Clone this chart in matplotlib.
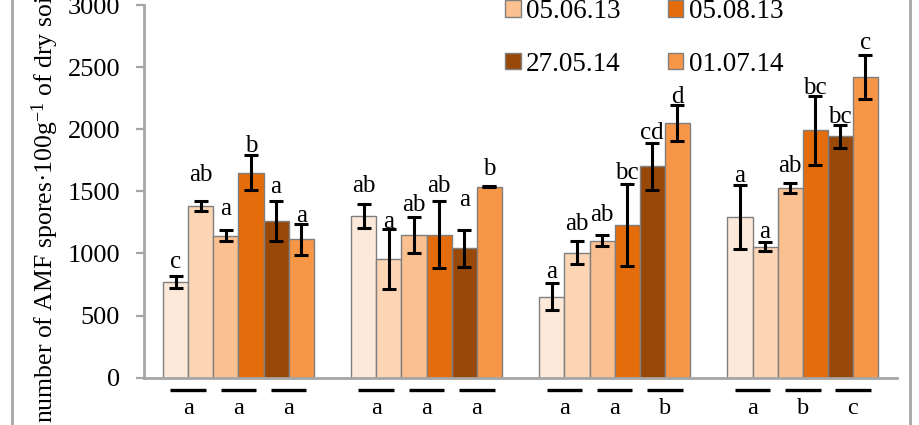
import matplotlib
matplotlib.use("Agg")
import matplotlib.pyplot as plt
import numpy as np
from matplotlib.lines import Line2D

plt.rcParams['font.family'] = ['Liberation Serif', 'DejaVu Serif']
plt.rcParams['mathtext.fontset'] = 'custom'
plt.rcParams['mathtext.rm'] = 'Liberation Serif'
plt.rcParams['mathtext.it'] = 'Liberation Serif:italic'

# ---- data ----
groups = [0, 1, 2, 3]
series_labels = ["", "", "05.06.13", "05.08.13", "27.05.14", "01.07.14"]
series_colors = ["#FDE9D9", "#FCD5B5", "#FAC090", "#E46C0A", "#984807", "#F79646"]

means = [
    [772, 1383, 1144, 1651, 1262, 1113],
    [1302, 955, 1148, 1150, 1040, 1536],
    [652, 1005, 1104, 1230, 1702, 2051],
    [1297, 1055, 1527, 1990, 1944, 2420],
]
errors = [
    [50, 40, 43, 142, 160, 128],
    [100, 240, 145, 270, 148, 5],
    [108, 93, 43, 332, 189, 142],
    [258, 37, 38, 278, 93, 174],
]
letters = [
    ["c", "ab", "a", "b", "a", "a"],
    ["ab", "a", "ab", "ab", "a", "b"],
    ["a", "ab", "ab", "bc", "cd", "d"],
    ["a", "a", "ab", "bc", "bc", "c"],
]
pair_letters = [
    ["a", "a", "a"],
    ["a", "a", "a"],
    ["a", "a", "b"],
    ["a", "b", "c"],
]
yticks = [0, 500, 1000, 1500, 2000, 2500, 3000]

# layout: gap (px) between error-bar top and letter baseline
label_gap_px = [
    [8, 20, 15, 3, 8, 2],
    [12, 1, 6, 9, 24, 11],
    [5, 11, 14, 5, 4, 2],
    [3, 4, 11, 2, 2, 6],
]

W, H = 920, 425
fig = plt.figure(figsize=(W / 100, H / 100), dpi=100)
ax = fig.add_axes([144.4 / W, 47.3 / H, (896.7 - 144.4) / W, (420 - 47.3) / H])

nser = 6
bw = 0.8 / nser
grey = "#A6A6A6"

handles = []
for s in range(nser):
    xs = [g + (s - (nser - 1) / 2) * bw for g in groups]
    vals = [means[g][s] for g in groups]
    errs = [errors[g][s] for g in groups]
    b = ax.bar(xs, vals, width=bw, color=series_colors[s], edgecolor="#7F7F7F",
               linewidth=1.0, zorder=2)
    handles.append(b)
    ax.errorbar(xs, vals, yerr=errs, fmt="none", ecolor="black", elinewidth=2.2,
                capsize=5, capthick=2.2, zorder=3)
    for g in groups:
        ax.annotate(letters[g][s], xy=(xs[g], vals[g] + errs[g]),
                    xytext=(0, label_gap_px[g][s] * 0.72), textcoords="offset points",
                    ha="center", va="baseline", fontsize=18)

# pair lines + letters below axis
for g in groups:
    for p in range(3):
        c = g + (2 * p + 0.5 - (nser - 1) / 2) * bw
        ax.plot([c - 0.095, c + 0.095], [-97, -97], color="black", lw=2.4,
                clip_on=False, solid_capstyle="butt", zorder=4)
        ax.text(c, -245, pair_letters[g][p], ha="center", va="center",
                fontsize=17.5, clip_on=False)

ax.set_xlim(-0.5, 3.5)
ax.set_ylim(0, 3000)
ax.set_yticks(yticks)
ax.set_yticklabels([str(v) for v in yticks], fontsize=19)
ax.set_xticks([])
for sp in ["top", "right"]:
    ax.spines[sp].set_visible(False)
for sp in ["left", "bottom"]:
    ax.spines[sp].set_color(grey)
    ax.spines[sp].set_linewidth(2.0)
ax.tick_params(axis="y", direction="out", length=5.5, width=1.6, color=grey, pad=12)

# legend (top row is cut off in the reference)
order = [2, 4, 3, 5]
leg = fig.legend([handles[i] for i in order], [series_labels[i] for i in order],
                 ncol=2, loc="upper left", bbox_to_anchor=(505.5 / W, (H + 1) / H),
                 frameon=False, fontsize=19.5, handlelength=0.56, handleheight=0.56,
                 handletextpad=0.2, columnspacing=1.75, labelspacing=1.02,
                 borderpad=0, borderaxespad=0)
for h in leg.legend_handles:
    h.set_edgecolor("#7F7F7F")

fig.text(45 / W, 2 / H, "number of AMF spores\u00b7100g$^{\\mathrm{-1}}$ of dry soil",
         rotation=90, ha="center", va="bottom", fontsize=18.5)

# chart border lines (left & right)
fig.add_artist(Line2D([11.5 / W, 11.5 / W], [0, 1], color=grey, lw=2, transform=fig.transFigure))
fig.add_artist(Line2D([910 / W, 910 / W], [0, 1], color=grey, lw=2, transform=fig.transFigure))

fig.savefig("out.png", dpi=100)
